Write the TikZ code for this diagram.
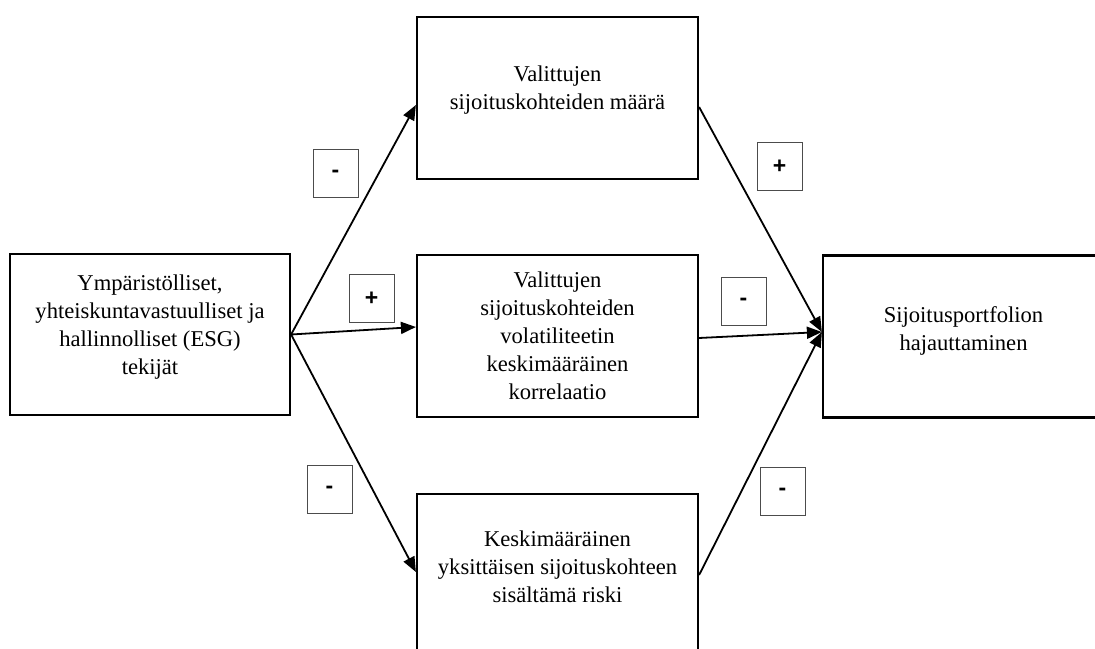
\documentclass[tikz,border=0pt]{standalone}
\usepackage{fontspec}
\setmainfont{Liberation Serif}
\newfontfamily\labfont{Liberation Sans}
\usetikzlibrary{arrows.meta,calc}
\tikzset{
  mainbox/.style={draw=black, line width=2.2pt, minimum width=281pt, minimum height=162pt, inner sep=0pt},
  maintext/.style={align=center, font=\fontsize{22.6}{28}\selectfont, inner sep=0pt},
  signbox/.style={draw=black!70, line width=1pt, minimum width=45pt, minimum height=48pt, inner sep=0pt, font=\labfont\bfseries\fontsize{23}{24}\selectfont},
  conn/.style={line width=1.8pt, -{Triangle[length=15pt,width=12pt]}}
}
\begin{document}
\begin{tikzpicture}[x=1pt,y=1pt]
\useasboundingbox (0,0) rectangle (1095,648);
\clip (0,0) rectangle (1095,648);
% boxes (centres, y = 648 - y_img)
\node[mainbox, minimum width=280pt, minimum height=161pt] (L) at (150,313.5) {};
\node[mainbox] (T) at (557.5,550) {};
\node[mainbox] (M) at (557.5,312) {};
\node[mainbox] (B) at (557.5,73) {};
\node[mainbox] (R) at (963.5,311.5) {};
% texts
\node[maintext] (Lt) at ([yshift=7pt]L.center) {Ympäristölliset,\\yhteiskuntavastuulliset ja\\hallinnolliset (ESG)\\tekijät};
\node[maintext] (Tt) at ([yshift=8pt]T.center) {Valittujen\\sijoituskohteiden määrä};
\node[maintext] (Mt) at ([yshift=0pt]M.center) {Valittujen\\sijoituskohteiden\\volatiliteetin\\keskimääräinen\\korrelaatio};
\node[maintext] (Bt) at ([yshift=8pt]B.center) {Keskimääräinen\\yksittäisen sijoituskohteen\\sisältämä riski};
\node[maintext] (Rt) at ([yshift=6pt]R.center) {Sijoitusportfolion\\hajauttaminen};
% connectors
\draw[conn] (L.east) -- ([yshift=-7pt]T.west);
\draw[conn] (L.east) -- ([yshift=9pt]M.west);
\draw[conn] (L.east) -- ([yshift=3pt]B.west);
\draw[conn] ([yshift=-9pt]T.east) -- ([yshift=4.5pt]R.west);
\draw[conn] ([yshift=-2pt]M.east) -- ([yshift=4.5pt]R.west);
\draw[conn] (B.east) -- ([yshift=4.5pt]R.west);
% sign labels
\node[signbox] (s1) at (335.5,474) {-};
\node[signbox] (s2) at (371.5,349) {+};
\node[signbox] (s3) at (329.5,158) {-};
\node[signbox] (s4) at (779.5,481.5) {+};
\node[signbox] (s5) at (743.5,346) {-};
\node[signbox] (s6) at (782.5,156) {-};
\end{tikzpicture}
\end{document}
